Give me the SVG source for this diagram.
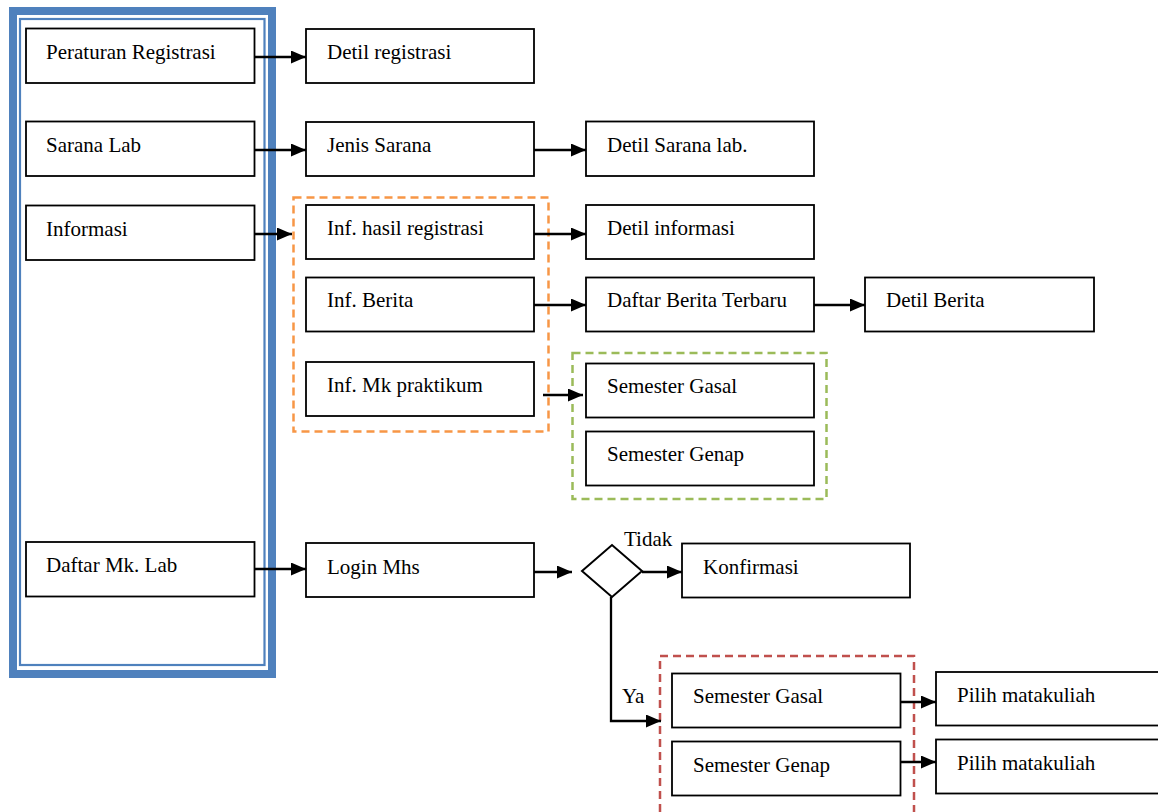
<svg xmlns="http://www.w3.org/2000/svg" width="1158" height="812" viewBox="0 0 1158 812">
  <style>
    .box { fill: #ffffff; stroke: #000000; stroke-width: 1.8; }
    .lbl { font-family: "Liberation Serif", "Times New Roman", serif; font-size: 21px; fill: #000000; }
    .link { fill: none; stroke: #000000; stroke-width: 2.3; }
    .arrow { fill: none; stroke: #000000; stroke-width: 2.3; marker-end: url(#head); }
    .grp { fill: none; stroke-width: 2.5; stroke-dasharray: 8 5; }
  </style>
  <defs>
    <marker id="head" markerWidth="15" markerHeight="13" refX="15" refY="6.5" orient="auto" markerUnits="userSpaceOnUse">
      <path d="M0,0 L15,6.5 L0,13 Z" fill="#000000"/>
    </marker>
  </defs>
  <rect width="1158" height="812" fill="#ffffff"/>

  <!-- main menu frame (thick-thin double border) -->
  <g id="menu-frame">
    <rect x="13" y="11" width="259" height="663" fill="none" stroke="#4F81BD" stroke-width="8"/>
    <rect x="20" y="19" width="244.5" height="646" fill="none" stroke="#4F81BD" stroke-width="2.2"/>
  </g>

  <!-- dashed grouping frames -->
  <g id="group-informasi">
    <rect class="grp" x="293.5" y="197.5" width="255" height="234" stroke="#F79646"/>
  </g>
  <g id="group-mk-praktikum">
    <rect class="grp" x="572.5" y="353" width="254" height="146" stroke="#9BBB59"/>
  </g>
  <g id="group-semester">
    <path class="grp" d="M660,812 L660,656 L914,656 L914,812" stroke="#C0504D"/>
  </g>

  <!-- connectors -->
  <g id="connectors">
    <line class="arrow" x1="254" y1="57" x2="306" y2="57"/>
    <line class="arrow" x1="254" y1="150" x2="306" y2="150"/>
    <line class="arrow" x1="254" y1="234" x2="292" y2="234"/>
    <line class="arrow" x1="254" y1="569" x2="306" y2="569"/>
    <line class="arrow" x1="534" y1="150" x2="586" y2="150"/>
    <line class="arrow" x1="534" y1="234" x2="586" y2="234"/>
    <line class="arrow" x1="534" y1="305" x2="586" y2="305"/>
    <line class="arrow" x1="814" y1="305" x2="865" y2="305"/>
    <line class="arrow" x1="543" y1="395" x2="583" y2="395"/>
    <line class="arrow" x1="534" y1="572" x2="572" y2="572"/>
    <line class="arrow" x1="642" y1="572" x2="682" y2="572"/>
    <path class="arrow" d="M611,597 L611,721 L661,721"/>
    <line class="arrow" x1="901" y1="702" x2="936" y2="702"/>
    <line class="arrow" x1="901" y1="762" x2="936" y2="762"/>
  </g>

  <!-- menu column -->
  <g id="peraturan-registrasi">
    <rect class="box" x="26" y="28.5" width="228.5" height="54.5"/>
    <text class="lbl" x="46" y="59">Peraturan Registrasi</text>
  </g>
  <g id="sarana-lab">
    <rect class="box" x="26" y="121.5" width="228.5" height="54.5"/>
    <text class="lbl" x="46" y="152">Sarana Lab</text>
  </g>
  <g id="informasi">
    <rect class="box" x="26" y="205.5" width="228.5" height="54.5"/>
    <text class="lbl" x="46" y="236">Informasi</text>
  </g>
  <g id="daftar-mk-lab">
    <rect class="box" x="26" y="542" width="228.5" height="54.5"/>
    <text class="lbl" x="46" y="572">Daftar Mk. Lab</text>
  </g>

  <!-- second column -->
  <g id="detil-registrasi">
    <rect class="box" x="306" y="29" width="228" height="54"/>
    <text class="lbl" x="327" y="59">Detil registrasi</text>
  </g>
  <g id="jenis-sarana">
    <rect class="box" x="306" y="122" width="228" height="54"/>
    <text class="lbl" x="327" y="152">Jenis Sarana</text>
  </g>
  <g id="inf-hasil-registrasi">
    <rect class="box" x="306" y="205" width="228" height="54"/>
    <text class="lbl" x="327" y="235">Inf. hasil registrasi</text>
  </g>
  <g id="inf-berita">
    <rect class="box" x="306" y="277.5" width="228" height="54"/>
    <text class="lbl" x="327" y="307">Inf. Berita</text>
  </g>
  <g id="inf-mk-praktikum">
    <rect class="box" x="306" y="362" width="228" height="54"/>
    <text class="lbl" x="327" y="392">Inf. Mk praktikum</text>
  </g>
  <g id="login-mhs">
    <rect class="box" x="306" y="543" width="228" height="54"/>
    <text class="lbl" x="327" y="574">Login Mhs</text>
  </g>

  <!-- third column -->
  <g id="detil-sarana-lab">
    <rect class="box" x="586" y="121.5" width="228" height="54.5"/>
    <text class="lbl" x="607" y="152">Detil Sarana lab.</text>
  </g>
  <g id="detil-informasi">
    <rect class="box" x="586" y="205" width="228" height="54"/>
    <text class="lbl" x="607" y="235">Detil informasi</text>
  </g>
  <g id="daftar-berita-terbaru">
    <rect class="box" x="586" y="277.5" width="228" height="54"/>
    <text class="lbl" x="607" y="307">Daftar Berita Terbaru</text>
  </g>
  <g id="semester-gasal-info">
    <rect class="box" x="586" y="363.5" width="228" height="54"/>
    <text class="lbl" x="607" y="393">Semester Gasal</text>
  </g>
  <g id="semester-genap-info">
    <rect class="box" x="586" y="431.5" width="228" height="54"/>
    <text class="lbl" x="607" y="461">Semester Genap</text>
  </g>

  <!-- decision -->
  <g id="cek-login">
    <polygon points="582,571 612,545 642,571 612,597" fill="#ffffff" stroke="#000000" stroke-width="2"/>
    <text class="lbl" x="624" y="546">Tidak</text>
    <text class="lbl" x="622" y="703">Ya</text>
  </g>
  <g id="konfirmasi">
    <rect class="box" x="682" y="543.5" width="228" height="54"/>
    <text class="lbl" x="703" y="574">Konfirmasi</text>
  </g>

  <!-- semester selection -->
  <g id="semester-gasal">
    <rect class="box" x="672" y="673.5" width="228.5" height="54"/>
    <text class="lbl" x="693" y="703">Semester Gasal</text>
  </g>
  <g id="semester-genap">
    <rect class="box" x="672" y="741.5" width="228.5" height="54"/>
    <text class="lbl" x="693" y="772">Semester Genap</text>
  </g>
  <g id="detil-berita">
    <rect class="box" x="865" y="277.5" width="229" height="54"/>
    <text class="lbl" x="886" y="307">Detil Berita</text>
  </g>
  <g id="pilih-matakuliah-gasal">
    <rect class="box" x="936" y="672" width="240" height="53.5"/>
    <text class="lbl" x="957" y="702">Pilih matakuliah</text>
  </g>
  <g id="pilih-matakuliah-genap">
    <rect class="box" x="936" y="739.5" width="240" height="54"/>
    <text class="lbl" x="957" y="770">Pilih matakuliah</text>
  </g>
</svg>
